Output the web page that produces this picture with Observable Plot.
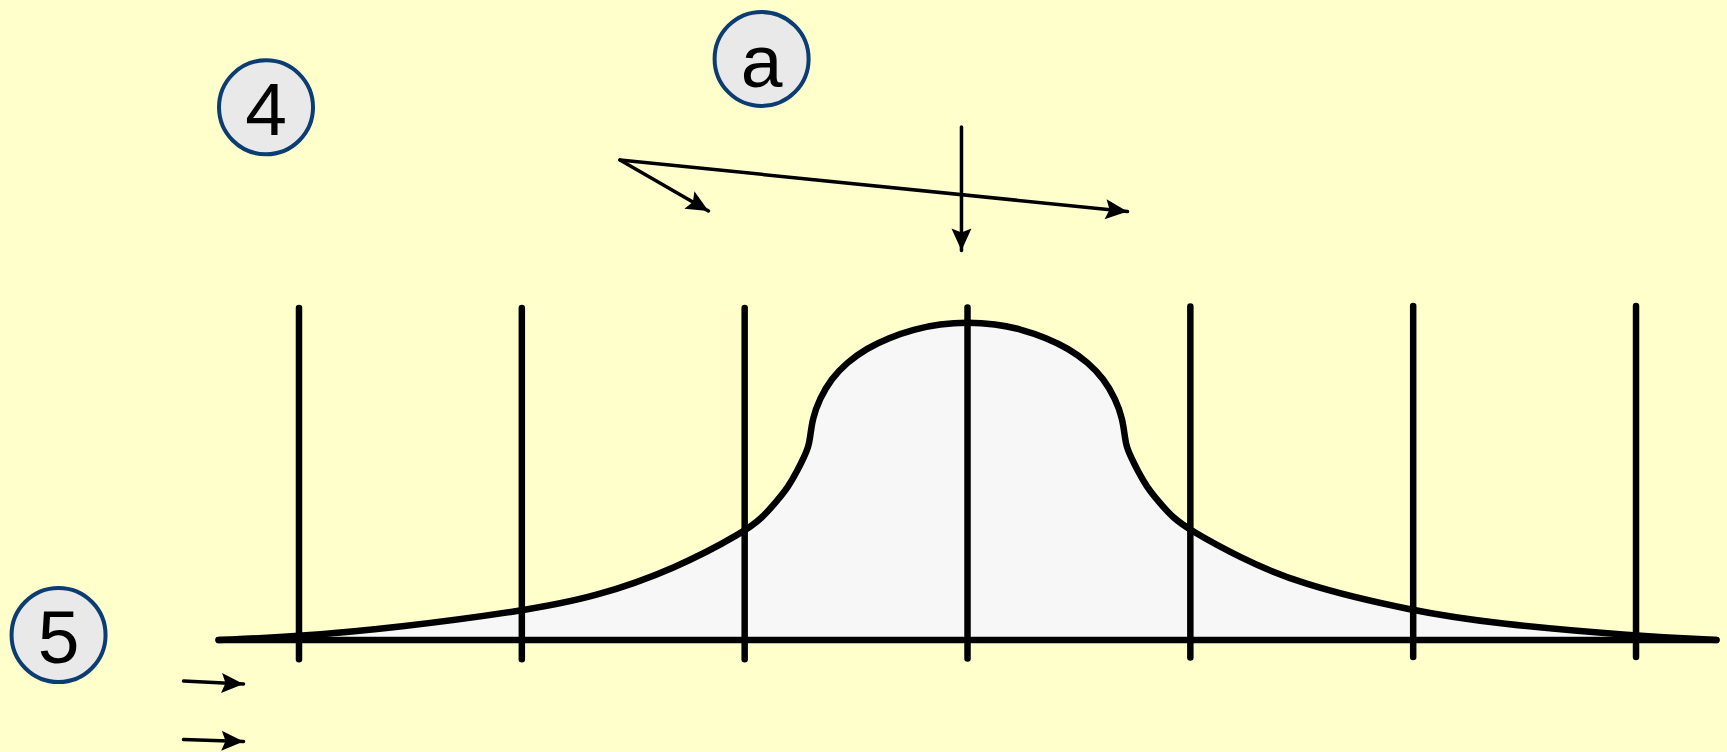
<!DOCTYPE html>
<html>
<head>
<meta charset="utf-8">
<script src="https://cdn.jsdelivr.net/npm/d3@7"></script>
<script src="https://cdn.jsdelivr.net/npm/@observablehq/plot@0.6"></script>
<style>
  html, body { margin: 0; padding: 0; background: #ffffcc; overflow: hidden; }
  #chart svg { display: block; }
</style>
</head>
<body>
<div id="chart"></div>
<script>
// Diagram units: x = grid position (vertical lines at 0..6), y = height above baseline (dome peak = 10)

// vertical grid lines
const gridX = [0, 1, 2, 3, 4, 5, 6];
const gridTop = [10.46, 10.46, 10.46, 10.48, 10.51, 10.53, 10.53];
const gridBottom = [-0.62, -0.62, -0.62, -0.60, -0.57, -0.55, -0.55];

// baseline extent
const baseX = [-0.36, 6.36];
const baseY = [0, 0];

// bell-with-dome outline
const curveX = [-0.361, 0.0, 0.445, 1.003, 1.330, 1.687, 2.002, 2.080, 2.143, 2.197, 2.237, 2.268, 2.286, 2.293,
  2.304, 2.336, 2.388, 2.459, 2.546, 2.647, 2.758, 2.877, 3.0,
  3.123, 3.242, 3.353, 3.454, 3.541, 3.612, 3.664, 3.696, 3.707,
  3.714, 3.732, 3.763, 3.803, 3.857, 3.920, 4.001, 4.218, 4.484, 4.998, 5.371, 6.001, 6.361];
const curveY = [0, 0.110, 0.395, 0.915, 1.357, 2.241, 3.425, 3.867, 4.372, 4.845, 5.350, 5.792, 6.108, 6.348,
  6.988, 7.608, 8.240, 8.760, 9.200, 9.538, 9.810, 9.976, 10.032,
  9.976, 9.810, 9.538, 9.200, 8.760, 8.240, 7.608, 6.988, 6.348,
  6.108, 5.792, 5.350, 4.845, 4.372, 3.867, 3.456, 2.614, 1.774, 0.909, 0.511, 0.126, 0];

// numbered callouts
const labelText = ["4", "a", "5"];
const labelX = [-0.148, 2.076, -1.079];
const labelY = [16.815, 18.343, 0.158];

// arrows (start -> tip)
const arrowX1 = [1.4404, 1.4404, 2.9729, -0.5183, -0.5183];
const arrowY1 = [15.152, 15.152, 16.193, -1.294, -3.141];
const arrowX2 = [3.7178, 1.8376, 2.9729, -0.2490, -0.2490];
const arrowY2 = [13.526, 13.542, 12.295, -1.389, -3.204];

const curve = curveX.map((x, i) => ({x, y: curveY[i]}));
const base = baseX.map((x, i) => ({x, y: baseY[i]}));
const grid = gridX.map((x, i) => ({x, y1: gridTop[i], y2: gridBottom[i]}));
const labels = labelText.map((t, i) => ({t, x: labelX[i], y: labelY[i]}));
const arrows = arrowX1.map((x1, i) => ({x1, y1: arrowY1[i], x2: arrowX2[i], y2: arrowY2[i]}));

function stealth(color) {
  const m = d3.create("svg:marker")
    .attr("viewBox", "-25 -12 26 24")
    .attr("markerWidth", 26)
    .attr("markerHeight", 24)
    .attr("markerUnits", "userSpaceOnUse")
    .attr("refX", 0)
    .attr("refY", 0)
    .attr("orient", "auto")
    .attr("fill", color)
    .attr("stroke", "none");
  m.append("path").attr("d", "M0,0L-22,-10L-18,0L-22,10Z");
  return m.node();
}

const W = 1727, H = 752;
const chart = Plot.plot({
  width: W,
  height: H,
  margin: 0,
  style: {background: "#ffffcc", overflow: "visible"},
  x: {domain: [-1.3395, 6.4105], axis: null},
  y: {domain: [-3.551, 20.186], axis: null},
  marks: [
    Plot.areaY(curve, {x: "x", y: "y", fill: "#f7f7f7", curve: "basis"}),
    Plot.line(base, {x: "x", y: "y", stroke: "black", strokeWidth: 6.5, strokeLinecap: "round"}),
    Plot.line(curve, {x: "x", y: "y", stroke: "black", strokeWidth: 6.5, curve: "basis", strokeLinecap: "round", strokeLinejoin: "round"}),
    Plot.ruleX(grid, {x: "x", y1: "y1", y2: "y2", stroke: "black", strokeWidth: 6.5, strokeLinecap: "round"}),
    Plot.link(arrows, {x1: "x1", y1: "y1", x2: "x2", y2: "y2", stroke: "black", strokeWidth: 3.5, strokeLinecap: "round", markerEnd: stealth}),
    Plot.dot(labels, {x: "x", y: "y", r: 47, fill: "#e9e9e9", stroke: "#0b3d73", strokeWidth: 4}),
    Plot.text(labels, {x: "x", y: "y", text: "t", fontSize: 75, fontFamily: "Liberation Sans, Arial, sans-serif", fill: "black", dy: 4})
  ]
});
document.getElementById("chart").appendChild(chart);
</script>
</body>
</html>
